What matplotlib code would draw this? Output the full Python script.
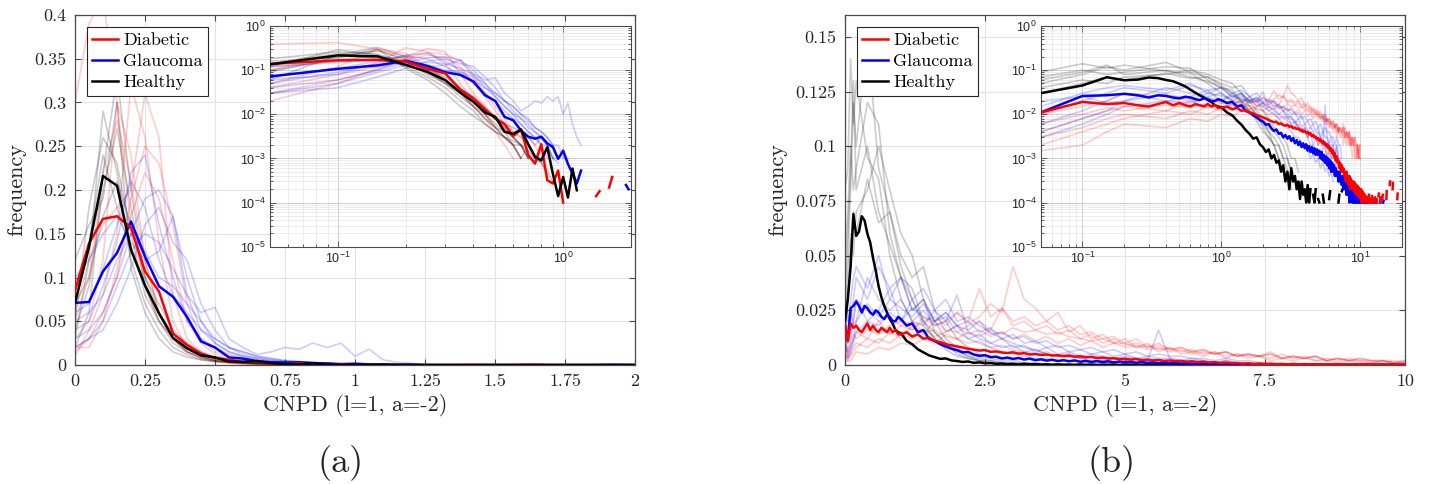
import numpy as np
import matplotlib
matplotlib.use('Agg')
import matplotlib.pyplot as plt
from matplotlib.lines import Line2D

plt.rcParams['font.family'] = 'cmr10'
plt.rcParams['axes.unicode_minus'] = False
plt.rcParams['axes.formatter.use_mathtext'] = True


def pad(vals, n):
    return np.array((list(vals) + [0.0] * n)[:n])


# ---------------- panel (a): bins of 0.05 on [0, 2] ----------------
xa = np.round(np.arange(41) * 0.05, 2)

mean_a = {
    'Healthy': [0.071, 0.135, 0.216, 0.205, 0.132, 0.091, 0.059, 0.031, 0.019, 0.011,
                0.0087, 0.004, 0.0036, 0.0045, 0.0021, 0.0011, 0.0009, 0.0018, 0.00045, 0.00014,
                0.00038, 0.00013, 0.00059, 0.00019],
    'Diabetic': [0.085, 0.139, 0.167, 0.170, 0.157, 0.107, 0.084, 0.036, 0.023, 0.013,
                 0.008, 0.006, 0.0032, 0.0045, 0.0012, 0.00076, 0.0021, 0.00032, 0.00027, 0.00053,
                 0.0001, 0, 0, 0, 0, 0, 0, 0, 0.00014, 0.00018,
                 0, 0, 0.00022, 0.00038],
    'Glaucoma': [0.071, 0.072, 0.107, 0.128, 0.164, 0.124, 0.090, 0.078, 0.055, 0.027,
                 0.020, 0.0087, 0.0073, 0.0043, 0.0031, 0.0028, 0.0031, 0.0022, 0.0018, 0.00098,
                 0.0015, 0.00075, 0.00045, 0.00027, 0.00053, 0, 0, 0, 0, 0,
                 0, 0, 0, 0, 0, 0, 0, 0, 0.00025, 0.0002],
}

subj_a = {
    'Healthy': [
        [0.03, 0.12, 0.29, 0.22, 0.12, 0.07, 0.04, 0.02, 0.012, 0.006, 0.004, 0.003, 0.002, 0.001, 0.002, 0.001, 0.0008, 0.0005, 0.0003],
        [0.05, 0.18, 0.26, 0.23, 0.15, 0.08, 0.05, 0.03, 0.015, 0.01, 0.005, 0.004, 0.003, 0.002, 0.001, 0.001],
        [0.12, 0.16, 0.19, 0.30, 0.11, 0.06, 0.03, 0.015, 0.009, 0.006, 0.004, 0.003, 0.0025, 0.002, 0.0015, 0.001, 0.0008, 0.0004],
        [0.02, 0.06, 0.22, 0.33, 0.20, 0.10, 0.06, 0.03, 0.02, 0.01, 0.006, 0.004, 0.002, 0.002, 0.001],
        [0.07, 0.10, 0.17, 0.21, 0.16, 0.10, 0.07, 0.04, 0.025, 0.015, 0.009, 0.006, 0.005, 0.004, 0.003, 0.002, 0.003, 0.002, 0.001, 0.0008],
        [0.04, 0.09, 0.20, 0.27, 0.18, 0.09, 0.05, 0.025, 0.015, 0.008, 0.005, 0.003, 0.002, 0.001],
        [0.09, 0.14, 0.24, 0.18, 0.13, 0.09, 0.06, 0.035, 0.02, 0.012, 0.008, 0.005, 0.003, 0.002, 0.001],
    ],
    'Diabetic': [
        [0.30, 0.39, 0.42, 0.30, 0.16, 0.09, 0.05, 0.03, 0.015, 0.008, 0.004, 0.002, 0.001],
        [0.03, 0.05, 0.12, 0.30, 0.24, 0.12, 0.06, 0.035, 0.02, 0.012, 0.008, 0.005, 0.003, 0.002, 0.0015],
        [0.01, 0.04, 0.08, 0.15, 0.32, 0.26, 0.14, 0.05, 0.02, 0.01, 0.005, 0.003, 0.002, 0.001],
        [0.06, 0.12, 0.16, 0.18, 0.20, 0.31, 0.26, 0.08, 0.03, 0.015, 0.008, 0.005, 0.003, 0.002, 0.001],
        [0.02, 0.02, 0.05, 0.11, 0.17, 0.22, 0.19, 0.12, 0.05, 0.025, 0.012, 0.006, 0.004, 0.003, 0.003, 0.002, 0.001],
        [0.05, 0.10, 0.22, 0.28, 0.21, 0.12, 0.06, 0.03, 0.015, 0.008, 0.005, 0.003, 0.002, 0.001],
        [0.015, 0.03, 0.06, 0.10, 0.19, 0.25, 0.23, 0.16, 0.07, 0.03, 0.015, 0.008, 0.004, 0.003, 0.002, 0.001],
    ],
    'Glaucoma': [
        [0.04, 0.05, 0.09, 0.14, 0.22, 0.24, 0.16, 0.10, 0.05, 0.03, 0.02, 0.012, 0.008, 0.006, 0.004, 0.003, 0.002, 0.002, 0.001, 0.001],
        [0.03, 0.04, 0.06, 0.10, 0.15, 0.19, 0.20, 0.17, 0.10, 0.05, 0.025, 0.015, 0.01, 0.008, 0.006, 0.004, 0.003, 0.002, 0.002, 0.001],
        [0.10, 0.12, 0.15, 0.17, 0.14, 0.12, 0.13, 0.17, 0.08, 0.04, 0.03, 0.02, 0.015, 0.01, 0.007, 0.005, 0.004, 0.003, 0.002, 0.001],
        [0.02, 0.03, 0.05, 0.09, 0.13, 0.15, 0.14, 0.11, 0.08, 0.06, 0.066, 0.03, 0.02, 0.012, 0.015, 0.02, 0.018, 0.025, 0.02, 0.025, 0.01, 0.018, 0.006, 0.003, 0.002],
        [0.05, 0.06, 0.08, 0.12, 0.15, 0.13, 0.10, 0.09, 0.07, 0.05, 0.03, 0.02, 0.015, 0.01, 0.008, 0.005, 0.004, 0.003, 0.002, 0.002, 0.001, 0.001],
        [0.06, 0.07, 0.11, 0.16, 0.21, 0.18, 0.12, 0.08, 0.06, 0.04, 0.025, 0.015, 0.01, 0.006, 0.004, 0.003, 0.002, 0.001],
        [0.02, 0.03, 0.04, 0.07, 0.11, 0.16, 0.18, 0.14, 0.12, 0.07, 0.04, 0.02, 0.012, 0.008, 0.005, 0.004, 0.003, 0.002, 0.001],
    ],
}

# ---------------- panel (b): finer bins near 0, 0.1 beyond 1 ----------------
xb = np.round(np.r_[np.arange(0, 1.0, 0.05), np.arange(1.0, 20.001, 0.1)], 2)
xbf = np.round(np.r_[[0, 0.05, 0.1, 0.15], np.arange(0.2, 10.001, 0.2)], 2)

mean_b = {
    'Healthy': [0.020, 0.030, 0.045, 0.069, 0.059, 0.061, 0.068, 0.066, 0.060, 0.056,
                0.049, 0.043, 0.036, 0.031, 0.027, 0.024, 0.021, 0.019, 0.016, 0.015,
                0.0145, 0.011, 0.0095, 0.0072, 0.0058, 0.0044, 0.0036, 0.0028, 0.0030, 0.0021,
                0.0018, 0.0014, 0.0016, 0.0010, 0.0012, 0.0008, 0.0009, 0.0005, 0.0007, 0.0003,
                0.0005, 0.0002, 0.0006, 0.0003, 0.0004, 0.0002, 0.0003, 0.00012, 0.0003, 0.00015,
                0.0002, 0.0001, 0.00025, 0.0001, 0.0002, 0, 0.00015, 0.0001, 0.0002, 0,
                0.00012, 0.0001, 0, 0, 0.00015, 0.0001, 0, 0.0002, 0, 0,
                0.00012, 0.00018, 0, 0, 0, 0, 0, 0, 0, 0,
                0.0001, 0.00015, 0, 0, 0.00018, 0.0002],
    'Glaucoma': [0.018, 0.011, 0.026, 0.027, 0.029, 0.027, 0.024, 0.027, 0.026, 0.024,
                 0.023, 0.025, 0.024, 0.022, 0.021, 0.023, 0.022, 0.020, 0.020, 0.022,
                 0.021, 0.018, 0.019, 0.015, 0.016, 0.012, 0.011, 0.0095, 0.0085, 0.0075,
                 0.0068, 0.0058, 0.0060, 0.0048, 0.0042, 0.0045, 0.0036, 0.0038, 0.0030, 0.0034,
                 0.0028, 0.0032, 0.0025, 0.0029, 0.0022, 0.0026, 0.0020, 0.0024, 0.0018, 0.0022,
                 0.0017, 0.0021, 0.0015, 0.0019, 0.0014, 0.0018, 0.0013, 0.0017, 0.0012, 0.0016,
                 0.0012, 0.0015, 0.0010, 0.0014, 0.0009, 0.0012, 0.0008, 0.0011, 0.0007, 0.0010,
                 0.0006, 0.0009, 0.0005, 0.0008, 0.0005, 0.0007, 0.0004, 0.0006, 0.0004, 0.0005,
                 0.0003, 0.0005, 0.0003, 0.0004, 0.00025, 0.0004, 0.0002, 0.00035, 0.0002, 0.0003,
                 0.00015, 0.0003, 0.00015, 0.00025, 0.0001, 0.00025, 0.00012, 0.0002, 0.0001, 0.0002,
                 0.0001, 0.00018, 0.0001, 0.00015, 0.0001, 0.00016, 0.0001, 0.00014, 0.0001, 0.00012,
                 0.0001, 0.00012, 0.0001, 0.00013, 0.0001, 0.00011, 0.0001, 0.00012, 0.0001, 0,
                 0.0001, 0.00011, 0.0001, 0, 0.00012, 0.0001, 0, 0.0001, 0.00011, 0,
                 0.0001, 0, 0, 0.00012, 0.0001, 0, 0, 0.0001, 0, 0,
                 0.00012, 0.0001, 0, 0, 0, 0.0001, 0, 0, 0, 0,
                 0.0001, 0.00012, 0, 0, 0, 0, 0, 0.0001, 0.00011],
    'Diabetic': [0.018, 0.011, 0.019, 0.017, 0.018, 0.016, 0.015, 0.017, 0.019, 0.016,
                 0.018, 0.016, 0.015, 0.017, 0.016, 0.015, 0.017, 0.015, 0.016, 0.014,
                 0.014, 0.015, 0.013, 0.014, 0.012, 0.0125, 0.011, 0.0105, 0.0095, 0.0090,
                 0.0085, 0.0080, 0.0074, 0.0070, 0.0066, 0.0068, 0.0060, 0.0062, 0.0057, 0.0055,
                 0.0058, 0.0052, 0.0054, 0.0048, 0.0050, 0.0046, 0.0048, 0.0043, 0.0045, 0.0040,
                 0.0042, 0.0038, 0.0040, 0.0035, 0.0037, 0.0032, 0.0034, 0.0030, 0.0031, 0.0027,
                 0.0029, 0.0025, 0.0027, 0.0023, 0.0025, 0.0021, 0.0023, 0.0019, 0.0021, 0.0017,
                 0.0019, 0.0015, 0.0017, 0.0013, 0.0015, 0.0011, 0.0013, 0.0009, 0.0011, 0.0008,
                 0.0009, 0.0006, 0.0008, 0.0005, 0.0007, 0.0005, 0.0006, 0.0004, 0.0005, 0.0003,
                 0.0005, 0.0003, 0.0004, 0.00025, 0.0004, 0.0002, 0.00035, 0.0002, 0.0003, 0.0002,
                 0.0003, 0.00018, 0.00028, 0.00016, 0.00025, 0.00015, 0.00024, 0.00014, 0.00022, 0.00013,
                 0.0002, 0.00012, 0.0002, 0.0001, 0.00018, 0.0001, 0.00016, 0, 0.00015, 0.0001,
                 0.00014, 0.0001, 0.00013, 0, 0.00012, 0.0001, 0.00015, 0, 0.0001, 0.00012,
                 0, 0.0001, 0.00014, 0, 0, 0.00012, 0.0001, 0, 0.00013, 0.00011,
                 0, 0, 0.00012, 0.0001, 0, 0, 0.00014, 0.00016, 0, 0,
                 0.0001, 0.00013, 0, 0, 0, 0.00012, 0.00015, 0, 0, 0,
                 0, 0, 0, 0, 0, 0.00012, 0.00018, 0, 0, 0,
                 0, 0, 0, 0, 0.00025, 0.0003, 0, 0, 0, 0,
                 0, 0, 0.0002, 0.00028, 0, 0, 0, 0, 0, 0,
                 0, 0, 0, 0, 0, 0, 0.00012, 0.00016],
}

subj_b = {
    'Healthy': [
        [0.03, 0.05, 0.08, 0.12, 0.10, 0.15, 0.09, 0.07, 0.045, 0.03, 0.02, 0.012, 0.008, 0.006, 0.004, 0.002, 0.001, 0.0005, 0.0003],
        [0.05, 0.07, 0.10, 0.08, 0.09, 0.12, 0.11, 0.06, 0.04, 0.025, 0.03, 0.015, 0.01, 0.005, 0.003, 0.002, 0.002, 0.001, 0.0005, 0.0002],
        [0.02, 0.04, 0.06, 0.05, 0.07, 0.08, 0.10, 0.08, 0.06, 0.05, 0.03, 0.02, 0.012, 0.008, 0.005, 0.004, 0.003, 0.002, 0.001, 0.0005, 0.0003],
        [0.08, 0.09, 0.14, 0.11, 0.13, 0.095, 0.085, 0.05, 0.03, 0.02, 0.018, 0.012, 0.007, 0.004, 0.003, 0.002, 0.001, 0.0005],
        [0.04, 0.06, 0.09, 0.13, 0.08, 0.10, 0.07, 0.055, 0.04, 0.035, 0.02, 0.015, 0.01, 0.007, 0.004, 0.003, 0.002, 0.001, 0.001, 0.0005],
        [0.01, 0.03, 0.05, 0.07, 0.06, 0.085, 0.065, 0.07, 0.05, 0.04, 0.045, 0.025, 0.02, 0.012, 0.008, 0.005, 0.004, 0.003, 0.002, 0.001, 0.001, 0.0005],
    ],
    'Glaucoma': [
        [0.02, 0.015, 0.03, 0.04, 0.045, 0.035, 0.05, 0.03, 0.04, 0.025, 0.03, 0.02, 0.022, 0.015, 0.012, 0.01, 0.008, 0.006, 0.005, 0.004,
         0.003, 0.003, 0.002, 0.002, 0.0015, 0.001, 0.0012, 0.0008, 0.001, 0.0006, 0.0008, 0.0005, 0.0006, 0.0004, 0.0005, 0.0003],
        [0.01, 0.006, 0.012, 0.02, 0.03, 0.02, 0.025, 0.035, 0.02, 0.03, 0.018, 0.025, 0.015, 0.018, 0.012, 0.014, 0.01, 0.008, 0.009, 0.006,
         0.007, 0.005, 0.004, 0.005, 0.003, 0.004, 0.002, 0.003, 0.002, 0.0025, 0.0015, 0.002, 0.001, 0.0015, 0.001, 0.0012, 0.0008, 0.001, 0.0006],
        [0.03, 0.02, 0.025, 0.018, 0.02, 0.04, 0.03, 0.025, 0.03, 0.02, 0.025, 0.018, 0.02, 0.032, 0.015, 0.012, 0.01, 0.012, 0.008, 0.009,
         0.006, 0.008, 0.005, 0.006, 0.004, 0.005, 0.004, 0.003, 0.004, 0.003, 0.002, 0.016, 0.003, 0.002, 0.003, 0.002, 0.001, 0.002, 0.001],
        [0.015, 0.004, 0.008, 0.012, 0.02, 0.028, 0.022, 0.03, 0.026, 0.022, 0.028, 0.02, 0.024, 0.018, 0.02, 0.015, 0.017, 0.012, 0.014, 0.01,
         0.011, 0.008, 0.009, 0.006, 0.007, 0.005, 0.006, 0.004, 0.005, 0.003, 0.004, 0.003, 0.003, 0.002, 0.002, 0.002, 0.001, 0.002, 0.001, 0.001],
        [0.02, 0.01, 0.02, 0.03, 0.04, 0.03, 0.045, 0.035, 0.04, 0.03, 0.035, 0.025, 0.03, 0.02, 0.022, 0.018, 0.015, 0.012, 0.01, 0.008,
         0.007, 0.005, 0.004, 0.004, 0.003, 0.002, 0.002, 0.0015, 0.001, 0.001],
        [0.005, 0.003, 0.006, 0.01, 0.015, 0.02, 0.018, 0.024, 0.02, 0.026, 0.022, 0.02, 0.024, 0.018, 0.016, 0.02, 0.014, 0.015, 0.012, 0.013,
         0.01, 0.011, 0.008, 0.009, 0.007, 0.008, 0.006, 0.007, 0.005, 0.006, 0.004, 0.005, 0.004, 0.004, 0.003, 0.003, 0.002, 0.003, 0.002, 0.002, 0.001],
    ],
    'Diabetic': [
        [0.01, 0.004, 0.008, 0.012, 0.015, 0.012, 0.02, 0.014, 0.018, 0.016, 0.022, 0.018, 0.02, 0.024, 0.019, 0.022, 0.028, 0.024, 0.045, 0.03,
         0.026, 0.02, 0.024, 0.015, 0.018, 0.012, 0.014, 0.01, 0.012, 0.008, 0.01, 0.006, 0.008, 0.005, 0.006, 0.004, 0.006, 0.003, 0.005, 0.003,
         0.004, 0.002, 0.003, 0.002, 0.003, 0.002, 0.002, 0.001, 0.002, 0.001, 0.001, 0.002, 0.001, 0.001],
        [0.005, 0.002, 0.004, 0.006, 0.008, 0.012, 0.01, 0.015, 0.012, 0.018, 0.014, 0.02, 0.016, 0.015, 0.018, 0.02, 0.016, 0.026, 0.018, 0.02,
         0.016, 0.018, 0.014, 0.016, 0.012, 0.014, 0.01, 0.012, 0.009, 0.01, 0.008, 0.009, 0.007, 0.008, 0.006, 0.007, 0.005, 0.006, 0.004, 0.005,
         0.004, 0.006, 0.003, 0.004, 0.003, 0.004, 0.002, 0.003, 0.002, 0.003, 0.002, 0.002, 0.001, 0.002],
        [0.02, 0.01, 0.015, 0.02, 0.03, 0.025, 0.02, 0.022, 0.018, 0.02, 0.015, 0.016, 0.013, 0.012, 0.01, 0.011, 0.008, 0.009, 0.007, 0.006,
         0.005, 0.006, 0.004, 0.005, 0.003, 0.004, 0.003, 0.003, 0.002, 0.003, 0.002, 0.002, 0.001, 0.002, 0.001, 0.001, 0.001, 0.0005],
        [0.003, 0.0015, 0.002, 0.004, 0.006, 0.005, 0.008, 0.007, 0.01, 0.009, 0.012, 0.01, 0.014, 0.012, 0.015, 0.013, 0.016, 0.014, 0.017, 0.015,
         0.016, 0.014, 0.015, 0.013, 0.012, 0.011, 0.012, 0.01, 0.01, 0.008, 0.009, 0.007, 0.008, 0.006, 0.007, 0.005, 0.006, 0.004, 0.005, 0.004,
         0.004, 0.003, 0.005, 0.003, 0.004, 0.002, 0.003, 0.002, 0.003, 0.002, 0.002, 0.001, 0.002, 0.001],
        [0.015, 0.006, 0.01, 0.014, 0.012, 0.016, 0.014, 0.018, 0.02, 0.016, 0.02, 0.022, 0.018, 0.024, 0.02, 0.035, 0.022, 0.026, 0.02, 0.022,
         0.018, 0.02, 0.016, 0.018, 0.014, 0.015, 0.012, 0.013, 0.01, 0.012, 0.008, 0.01, 0.007, 0.008, 0.006, 0.007, 0.005, 0.006, 0.004, 0.005,
         0.004, 0.005, 0.003, 0.004, 0.003, 0.004, 0.002, 0.003, 0.002, 0.002, 0.001, 0.002, 0.001, 0.001],
        [0.008, 0.003, 0.005, 0.008, 0.01, 0.008, 0.012, 0.01, 0.014, 0.012, 0.016, 0.013, 0.015, 0.018, 0.014, 0.016, 0.013, 0.015, 0.012, 0.014,
         0.011, 0.013, 0.01, 0.012, 0.009, 0.011, 0.008, 0.01, 0.008, 0.009, 0.007, 0.008, 0.006, 0.007, 0.005, 0.006, 0.005, 0.006, 0.004, 0.005,
         0.004, 0.005, 0.003, 0.004, 0.003, 0.004, 0.002, 0.003, 0.002, 0.003, 0.002, 0.002, 0.001, 0.002],
    ],
}

colors = {'Diabetic': '#ff0000', 'Glaucoma': '#0000ff', 'Healthy': '#000000'}
classes = ['Diabetic', 'Glaucoma', 'Healthy']
faint_order = ['Diabetic', 'Healthy', 'Glaucoma']
SPINE = '#4a4a4a'
TXT = '#262626'

fig = plt.figure(figsize=(14.29, 4.84), dpi=100)


def draw(ax, x, means, xs, subj, mean_order, log=False):
    for c in faint_order:
        for s in subj[c]:
            y = pad(s, len(xs))
            if log:
                y = np.where(y > 0, y, np.nan)
            ax.plot(xs, y, color=colors[c], alpha=0.2, lw=1.2, zorder=2)
    for c in mean_order:
        y = pad(means[c], len(x))
        if log:
            y = np.where(y > 0, y, np.nan)
        ax.plot(x, y, color=colors[c], lw=1.8, zorder=3)


def style_main(ax, xlim, ylim, xticks, xlabels, yticks, ylabels):
    ax.set_xlim(xlim)
    ax.set_ylim(ylim)
    ax.set_xticks(xticks)
    ax.set_xticklabels(xlabels)
    ax.set_yticks(yticks)
    ax.set_yticklabels(ylabels)
    ax.grid(True, color='#e3e3e3', lw=0.8)
    ax.set_axisbelow(True)
    ax.tick_params(direction='in', top=True, right=True, length=4, width=0.8,
                   color=SPINE, labelsize=13, labelcolor=TXT, pad=6)
    for sp in ax.spines.values():
        sp.set_color(SPINE)
        sp.set_linewidth(0.9)
    ax.set_xlabel('CNPD (l=1, a=-2)', fontsize=16, color=TXT, labelpad=4)
    ax.set_ylabel('frequency', fontsize=16, color=TXT, labelpad=6)
    handles = [Line2D([], [], color=colors[c], lw=1.8) for c in classes]
    leg = ax.legend(handles, classes, loc='upper left', bbox_to_anchor=(12 / 560, 1 - 12 / 350),
                    borderaxespad=0, fontsize=13, handlelength=1.4, handletextpad=0.3,
                    labelspacing=0.3, borderpad=0.3, fancybox=False, framealpha=1,
                    edgecolor=TXT)
    leg.get_frame().set_linewidth(0.8)


def style_inset(ax, xlim, xticks):
    ax.set_xscale('log')
    ax.set_yscale('log')
    ax.set_xlim(xlim)
    ax.set_ylim(1e-5, 1)
    ax.set_xticks(xticks)
    ax.set_yticks([1e-5, 1e-4, 1e-3, 1e-2, 1e-1, 1])
    ax.grid(True, which='major', color='#cfcfcf', lw=0.7)
    ax.grid(True, which='minor', color='#e4e4e4', lw=0.5)
    ax.set_axisbelow(True)
    ax.tick_params(which='both', direction='in', top=True, right=True, color=SPINE, width=0.6)
    ax.tick_params(which='major', length=4, labelsize=9, labelcolor=TXT,
                   labelfontfamily='Liberation Sans', pad=3)
    ax.tick_params(which='minor', length=2)
    for sp in ax.spines.values():
        sp.set_color(SPINE)
        sp.set_linewidth(0.8)


W, H = 1429, 484
# panel (a)
ax_a = fig.add_axes([75 / W, 1 - 365 / H, 560 / W, 350 / H])
draw(ax_a, xa, mean_a, xa, subj_a, ['Glaucoma', 'Diabetic', 'Healthy'])
style_main(ax_a, (0, 2), (0, 0.4), np.arange(0, 2.01, 0.25),
           ['0', '0.25', '0.5', '0.75', '1', '1.25', '1.5', '1.75', '2'],
           np.arange(0, 0.401, 0.05),
           ['0', '0.05', '0.1', '0.15', '0.2', '0.25', '0.3', '0.35', '0.4'])

in_a = fig.add_axes([270 / W, 1 - 246.7 / H, 361 / W, 220.7 / H], facecolor='white')
in_a.set_zorder(5)
draw(in_a, xa, mean_a, xa, subj_a, ['Glaucoma', 'Diabetic', 'Healthy'], log=True)
style_inset(in_a, (0.05, 2), [0.1, 1])

# panel (b)
ax_b = fig.add_axes([845 / W, 1 - 365 / H, 560 / W, 350 / H])
draw(ax_b, xb, mean_b, xbf, subj_b, ['Healthy', 'Glaucoma', 'Diabetic'])
style_main(ax_b, (0, 10), (0, 0.16), [0, 2.5, 5, 7.5, 10],
           ['0', '2.5', '5', '7.5', '10'],
           np.arange(0, 0.151, 0.025),
           ['0', '0.025', '0.05', '0.075', '0.1', '0.125', '0.15'])

in_b = fig.add_axes([1040.7 / W, 1 - 246.7 / H, 361 / W, 220.7 / H], facecolor='white')
in_b.set_zorder(5)
draw(in_b, xb, mean_b, xbf, subj_b, ['Healthy', 'Glaucoma', 'Diabetic'], log=True)
style_inset(in_b, (0.05, 20), [0.1, 1, 10])

fig.text(341 / W, 1 - 463 / H, '(a)', fontsize=26, ha='center', va='center', color=TXT)
fig.text(1112 / W, 1 - 463 / H, '(b)', fontsize=26, ha='center', va='center', color=TXT)

fig.savefig('out.png', dpi=100, facecolor='white')
